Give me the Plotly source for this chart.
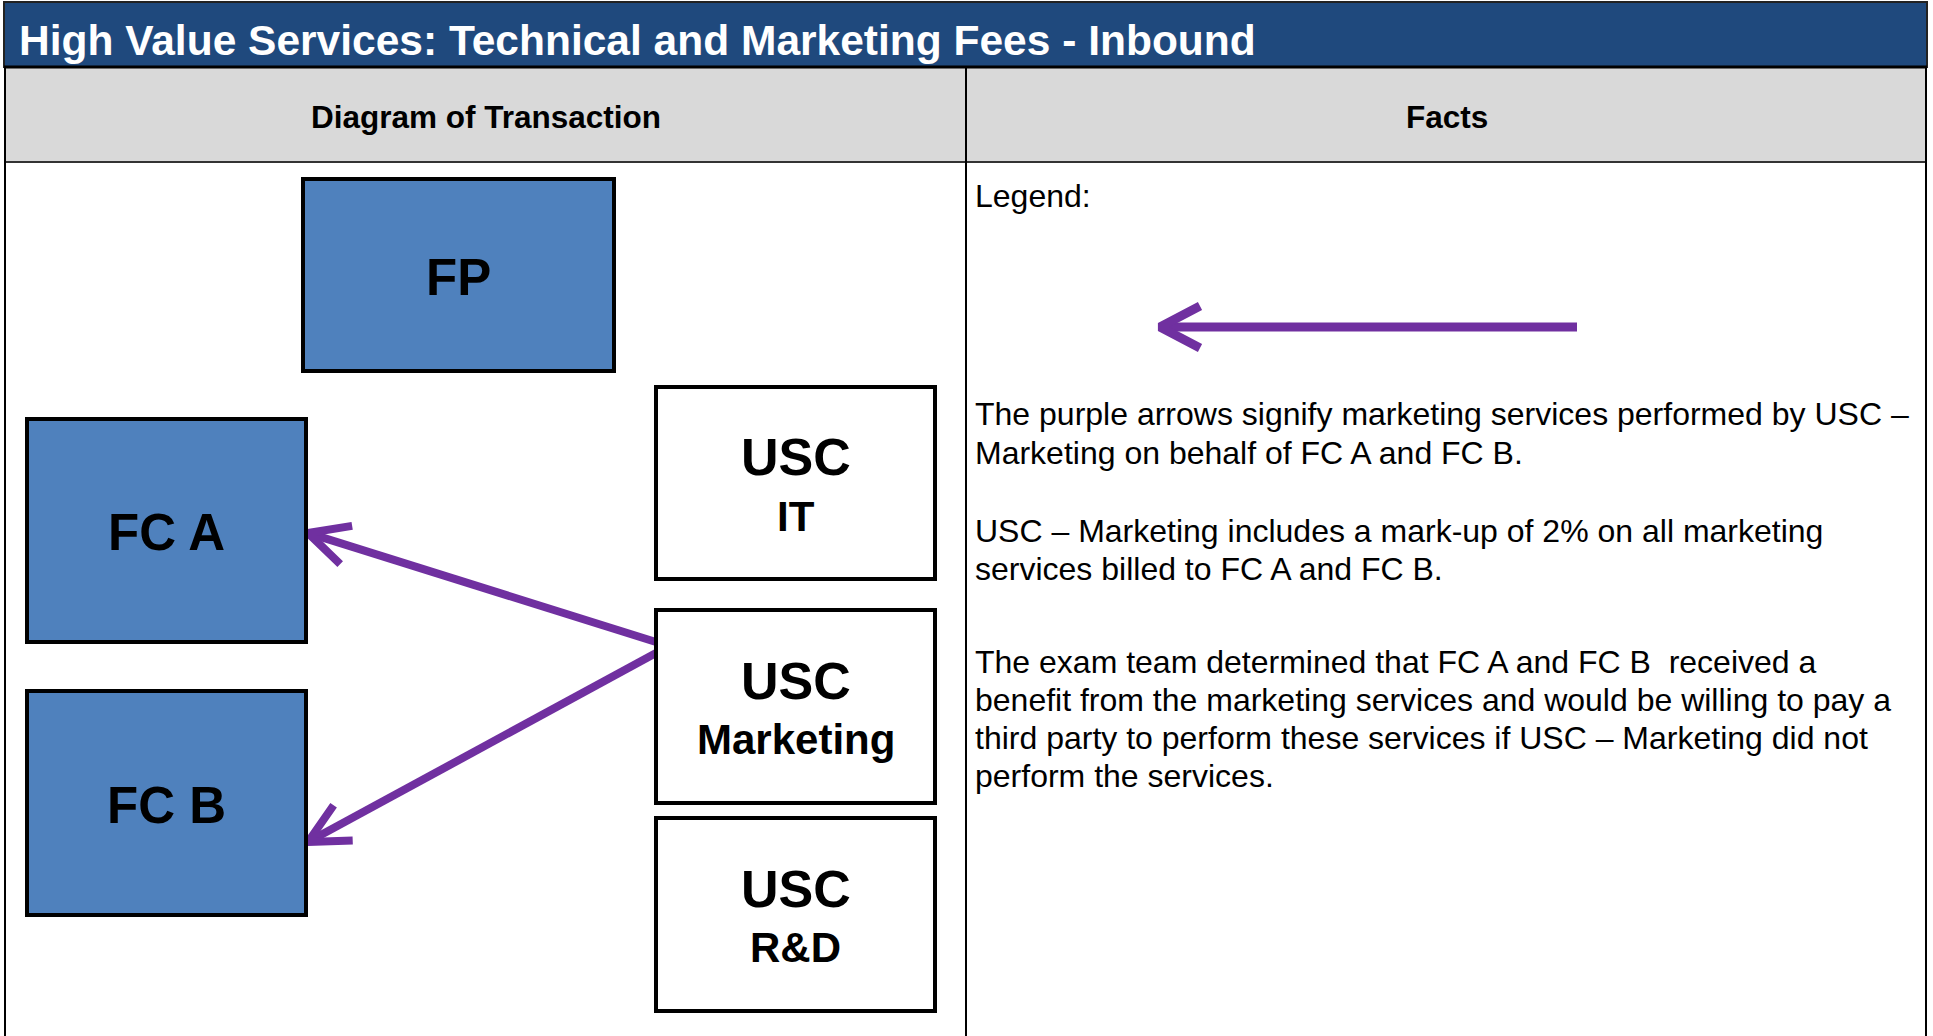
import math
import plotly.graph_objects as go

W, H = 1933, 1036

# ---- content ----
title_text = "High Value Services: Technical and Marketing Fees - Inbound"
col_headers = ["Diagram of Transaction", "Facts"]

node_names = ["FP", "FC A", "FC B", "USC", "USC", "USC"]
node_subs = ["", "", "", "IT", "Marketing", "R&D"]
node_kind = ["foreign", "foreign", "foreign", "us", "us", "us"]

legend_label = "Legend:"
facts_lines = [
    "The purple arrows signify marketing services performed by USC \u2013",
    "Marketing on behalf of FC A and FC B.",
    "USC \u2013 Marketing includes a mark-up of 2% on all marketing",
    "services billed to FC A and FC B.",
    "The exam team determined that FC A and FC B  received a",
    "benefit from the marketing services and would be willing to pay a",
    "third party to perform these services if USC \u2013 Marketing did not",
    "perform the services.",
]

# arrows: (from node index, to node index)
arrow_links = [(4, 1), (4, 2)]

# ---- layout geometry (pixels) ----
node_x0 = [303, 27, 27, 656, 656, 656]
node_x1 = [614, 306, 306, 935, 935, 935]
node_y0 = [179, 419, 691, 387, 610, 818]
node_y1 = [371, 642, 915, 579, 803, 1011]
arrow_start = [(656, 642), (656, 653)]
arrow_tip = [(308, 533), (308, 842)]
legend_arrow = ((1577, 327), (1160, 327))
facts_y = [414, 453, 531, 569, 662, 700, 738, 776]

NAVY = "#1F497D"
GRAY = "#D9D9D9"
BLUE = "#4F81BD"
PURPLE = "#7030A0"
FONT = "Arial, Liberation Sans, sans-serif"

fig = go.Figure()
shapes = []
annotations = []

# title bar
shapes.append(dict(type="rect", x0=4, x1=1927, y0=2, y1=67, fillcolor=NAVY,
                   line=dict(color="#222222", width=2), layer="below"))
annotations.append(dict(x=17, y=40, text="<b>%s</b>" % title_text, showarrow=False,
                        xanchor="left", yanchor="middle",
                        font=dict(family=FONT, size=42.5, color="white")))
# header row
shapes.append(dict(type="rect", x0=4, x1=1927, y0=67, y1=162, fillcolor=GRAY,
                   line=dict(width=0), layer="below"))
shapes.append(dict(type="line", x0=4, x1=1927, y0=67, y1=67, line=dict(color="black", width=3)))
shapes.append(dict(type="line", x0=4, x1=1927, y0=162, y1=162, line=dict(color="#333333", width=2)))
# borders
shapes.append(dict(type="line", x0=5, x1=5, y0=67, y1=H, line=dict(color="black", width=2)))
shapes.append(dict(type="line", x0=1926, x1=1926, y0=67, y1=H, line=dict(color="black", width=2)))
shapes.append(dict(type="line", x0=966, x1=966, y0=67, y1=H, line=dict(color="black", width=2)))

hdr_cx = [486, 1447]
for cx, t in zip(hdr_cx, col_headers):
    annotations.append(dict(x=cx, y=117, text="<b>%s</b>" % t, showarrow=False,
                            xanchor="center", yanchor="middle",
                            font=dict(family=FONT, size=31.5, color="black")))

# nodes
for i, name in enumerate(node_names):
    fill = BLUE if node_kind[i] == "foreign" else "white"
    shapes.append(dict(type="rect", x0=node_x0[i], x1=node_x1[i], y0=node_y0[i], y1=node_y1[i],
                       fillcolor=fill, line=dict(color="black", width=4)))
    cx = (node_x0[i] + node_x1[i]) / 2
    cy = (node_y0[i] + node_y1[i]) / 2
    if node_subs[i]:
        annotations.append(dict(x=cx, y=cy - 26, text="<b>%s</b>" % name, showarrow=False,
                                xanchor="center", yanchor="middle",
                                font=dict(family=FONT, size=52, color="black")))
        annotations.append(dict(x=cx, y=cy + 33, text="<b>%s</b>" % node_subs[i], showarrow=False,
                                xanchor="center", yanchor="middle",
                                font=dict(family=FONT, size=42, color="black")))
    else:
        annotations.append(dict(x=cx, y=cy + 2, text="<b>%s</b>" % name, showarrow=False,
                                xanchor="center", yanchor="middle",
                                font=dict(family=FONT, size=51, color="black")))


def add_arrow(p0, p1, width, along=40, half=20):
    (x0, y0), (x1, y1) = p0, p1
    dx, dy = x1 - x0, y1 - y0
    L = math.hypot(dx, dy)
    ux, uy = dx / L, dy / L
    px, py = -uy, ux
    bx = x1 - ux * along
    by = y1 - uy * along
    b1 = (bx + px * half, by + py * half)
    b2 = (bx - px * half, by - py * half)
    fig.add_trace(go.Scatter(x=[x0, x1 - ux * 3], y=[y0, y1 - uy * 3], mode="lines",
                             line=dict(color=PURPLE, width=width), hoverinfo="skip",
                             showlegend=False))
    fig.add_trace(go.Scatter(x=[b1[0], x1, b2[0]], y=[b1[1], y1, b2[1]], mode="lines",
                             line=dict(color=PURPLE, width=width), hoverinfo="skip",
                             showlegend=False))


for s, t in zip(arrow_start, arrow_tip):
    add_arrow(s, t, 8)
add_arrow(legend_arrow[0], legend_arrow[1], 9, along=40, half=21)

annotations.append(dict(x=973, y=196, text=legend_label, showarrow=False,
                        xanchor="left", yanchor="middle",
                        font=dict(family=FONT, size=32, color="black")))
for yy, line in zip(facts_y, facts_lines):
    annotations.append(dict(x=973, y=yy, text=line, showarrow=False,
                            xanchor="left", yanchor="middle",
                            font=dict(family=FONT, size=32, color="black")))

fig.update_layout(
    width=W, height=H, margin=dict(l=0, r=0, t=0, b=0),
    paper_bgcolor="white", plot_bgcolor="white",
    xaxis=dict(range=[0, W], visible=False, fixedrange=True),
    yaxis=dict(range=[H, 0], visible=False, fixedrange=True),
    shapes=shapes, annotations=annotations, showlegend=False,
)

fig.write_html("out.html", config={"displayModeBar": False},
               post_script="document.body.style.margin='0';document.body.style.overflow='hidden';")
